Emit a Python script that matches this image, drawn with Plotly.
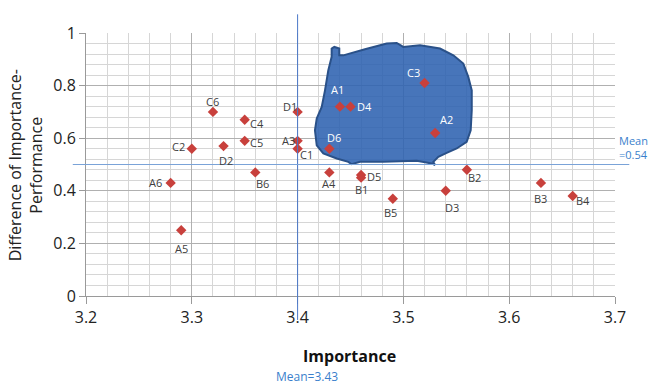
import plotly.graph_objects as go

# ---------------- data ----------------
point_labels = ["A1", "D4", "C3", "A2", "D6", "D1", "A3", "C1", "A4", "D5", "B1", "B2",
                "D3", "B5", "B3", "B4", "C6", "C4", "C5", "C2", "D2", "B6", "A6", "A5"]
importance = [3.44, 3.45, 3.52, 3.53, 3.43, 3.40, 3.40, 3.40, 3.43, 3.46, 3.46, 3.56,
              3.54, 3.49, 3.63, 3.66, 3.32, 3.35, 3.35, 3.30, 3.33, 3.36, 3.28, 3.29]
gap = [0.72, 0.72, 0.81, 0.62, 0.56, 0.70, 0.59, 0.56, 0.47, 0.46, 0.45, 0.48,
       0.40, 0.37, 0.43, 0.38, 0.70, 0.67, 0.59, 0.56, 0.57, 0.47, 0.43, 0.25]

x_ticks = [3.2, 3.3, 3.4, 3.5, 3.6, 3.7]
y_ticks = [0, 0.2, 0.4, 0.6, 0.8, 1]

mean_importance_line = 3.40
mean_gap_line = 0.50
mean_importance_text = "Mean=3.43"
mean_gap_text = "Mean<br>=0.54"

# highlighted region outline (data coordinates)
blob_x = [3.4322, 3.4322, 3.4347, 3.4394, 3.4394, 3.4432, 3.4637, 3.4842, 3.4937, 3.4968,
          3.4999, 3.5157, 3.5346, 3.5472, 3.5566, 3.5613, 3.5646, 3.5646, 3.5636, 3.5598,
          3.5504, 3.5409, 3.5330, 3.5283, 3.5299, 3.5268, 3.5126, 3.4810, 3.4590, 3.4511,
          3.4479, 3.4370, 3.4243, 3.4181, 3.4164, 3.4181, 3.4228, 3.4259, 3.4290, 3.4322]
blob_y = [0.910, 0.941, 0.947, 0.941, 0.915, 0.915, 0.938, 0.960, 0.962, 0.953,
          0.947, 0.953, 0.941, 0.915, 0.884, 0.833, 0.782, 0.706, 0.630, 0.586,
          0.561, 0.544, 0.529, 0.510, 0.498, 0.504, 0.514, 0.510, 0.510, 0.501,
          0.510, 0.523, 0.542, 0.573, 0.630, 0.675, 0.719, 0.782, 0.858, 0.910]

# ---------------- styling ----------------
FONT = "Open Sans, Noto Sans, DejaVu Sans, sans-serif"
label_offsets = {  # pixel offsets of label centre from marker (dx, dy down)
    "A1": (-2, -17), "D4": (14, 0), "C3": (-11, -10), "A2": (11, -13), "D6": (5, -11),
    "D1": (-8, -5), "A3": (-9, 0), "C1": (9, 6), "A4": (0, 11), "D5": (13, 1),
    "B1": (0, 12), "B2": (8, 8), "D3": (6, 17), "B5": (-2, 14), "B3": (0, 16),
    "B4": (10, 4), "C6": (0, -10), "C4": (12, 4), "C5": (12, 2), "C2": (-13, -2),
    "D2": (2, 14), "B6": (7, 11), "A6": (-15, 0), "A5": (0, 18),
}
white_labels = {"A1", "D4", "C3", "A2", "D6"}

fig = go.Figure()

fig.add_trace(go.Scatter(
    x=blob_x, y=blob_y, mode="lines", fill="toself",
    fillcolor="rgba(46,98,176,0.88)",
    line=dict(color="#2a5189", width=2),
    hoverinfo="skip", showlegend=False,
))

fig.add_trace(go.Scatter(
    x=importance, y=gap, mode="markers", text=point_labels,
    marker=dict(symbol="diamond", size=8, color="#c8403c"),
    showlegend=False,
))

for lab, xv, yv in zip(point_labels, importance, gap):
    dx, dy = label_offsets[lab]
    fig.add_annotation(
        x=xv, y=yv, text=lab, showarrow=False, xshift=dx, yshift=-dy,
        xanchor="center", yanchor="middle",
        font=dict(family=FONT, size=11,
                  color="white" if lab in white_labels else "#404040"),
    )

# mean lines
fig.add_shape(type="line", xref="x", yref="paper",
              x0=mean_importance_line, x1=mean_importance_line, y0=-0.091, y1=1.071,
              line=dict(color="#4a78c8", width=1), layer="above")
fig.add_shape(type="line", xref="paper", yref="y",
              x0=-0.025, x1=1.027, y0=mean_gap_line, y1=mean_gap_line,
              line=dict(color="#7aa3d8", width=1.2), layer="above")

fig.add_annotation(xref="paper", yref="paper", x=0.417, y=-0.305,
                   xanchor="center", yanchor="middle",
                   text=mean_importance_text, showarrow=False,
                   font=dict(family=FONT, size=12, color="#3a7fcc"))
fig.add_annotation(xref="paper", yref="paper", x=1.003, y=0.566, xanchor="left",
                   yanchor="middle", align="left", text=mean_gap_text, showarrow=False,
                   font=dict(family=FONT, size=11, color="#3a7fcc"))

# axis titles
fig.add_annotation(xref="paper", yref="paper", x=0.4985, y=-0.229,
                   xanchor="center", yanchor="middle",
                   text="<b>Importance</b>", showarrow=False,
                   font=dict(family=FONT, size=16, color="#111111"))
fig.add_annotation(xref="paper", yref="paper", x=-0.115, y=0.4975,
                   xanchor="center", yanchor="middle",
                   text="Difference of Importance-<br>Performance", textangle=-90,
                   showarrow=False,
                   font=dict(family=FONT, size=16, color="#222222"))

grid_major = "#b0b0b0"
grid_minor = "#d6d6d6"
fig.update_xaxes(
    range=[3.2, 3.7], tickvals=x_ticks, ticktext=[f"{v:.1f}" for v in x_ticks],
    showgrid=True, gridcolor=grid_major, gridwidth=1,
    minor=dict(dtick=0.02, showgrid=True, gridcolor=grid_minor, gridwidth=1, ticks=""),
    showline=True, linecolor="#9a9a9a", linewidth=1, mirror=False,
    ticks="outside", ticklen=7, tickcolor="#9a9a9a",
    tickfont=dict(family=FONT, size=16, color="#222222"),
    zeroline=False, fixedrange=True,
)
fig.update_yaxes(
    range=[0, 1], tickvals=y_ticks, ticktext=["0", "0.2", "0.4", "0.6", "0.8", "1"],
    showgrid=True, gridcolor=grid_major, gridwidth=1,
    minor=dict(dtick=0.04, showgrid=True, gridcolor=grid_minor, gridwidth=1, ticks=""),
    showline=True, linecolor="#9a9a9a", linewidth=1,
    ticks="outside", ticklen=6, tickcolor="#9a9a9a",
    tickfont=dict(family=FONT, size=16, color="#222222"),
    zeroline=False, fixedrange=True,
)

fig.update_layout(
    width=648, height=385,
    margin=dict(l=86, r=33, t=33, b=89),
    paper_bgcolor="white", plot_bgcolor="white",
    showlegend=False,
)

# remove the page's default body margin so the 648x385 figure fills the window
fig.write_html(
    "out.html",
    config={"displayModeBar": False},
    post_script="document.body.style.margin='0';document.body.style.overflow='hidden';",
)
